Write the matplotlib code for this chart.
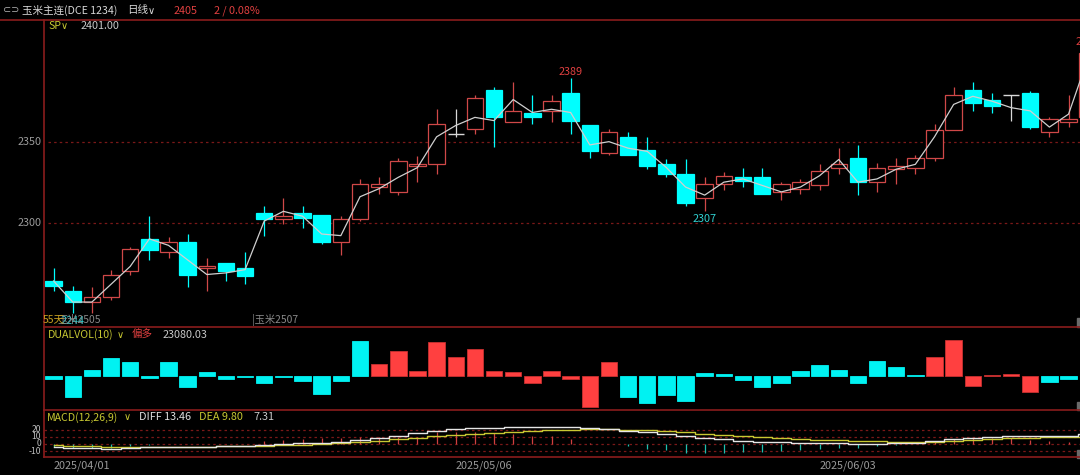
import matplotlib
matplotlib.use("Agg")
import matplotlib.pyplot as plt
from matplotlib.patches import Rectangle
from matplotlib.lines import Line2D

plt.rcParams['font.family'] = ['Noto Sans CJK SC', 'DejaVu Sans']

# ---------------- data ----------------
opens = [2264, 2258, 2251, 2254, 2270, 2290, 2282, 2288, 2272, 2275, 2272, 2306, 2302, 2306,
         2305, 2288, 2302, 2322, 2319, 2335, 2336, 2355, 2358, 2382, 2362, 2368, 2369, 2380,
         2360, 2343, 2353, 2345, 2336, 2330, 2315, 2324, 2328, 2328, 2319, 2321, 2323, 2334,
         2340, 2325, 2333, 2334, 2340, 2357, 2382, 2376, 2379, 2380, 2356, 2362, 2365]
highs = [2272, 2261, 2260, 2271, 2285, 2304, 2291, 2293, 2278, 2275, 2282, 2310, 2315, 2310,
         2305, 2304, 2327, 2328, 2340, 2341, 2370, 2370, 2379, 2384, 2387, 2379, 2379, 2389,
         2360, 2358, 2356, 2353, 2339, 2339, 2328, 2331, 2334, 2334, 2325, 2327, 2336, 2346,
         2348, 2337, 2340, 2342, 2361, 2384, 2387, 2380, 2379, 2381, 2365, 2379, 2407]
lows = [2258, 2244, 2244, 2252, 2268, 2277, 2278, 2260, 2258, 2264, 2262, 2292, 2299, 2297,
        2287, 2280, 2301, 2318, 2317, 2325, 2330, 2353, 2355, 2347, 2362, 2361, 2362, 2355,
        2340, 2342, 2342, 2333, 2328, 2310, 2307, 2320, 2322, 2318, 2314, 2318, 2320, 2330,
        2317, 2319, 2324, 2330, 2338, 2357, 2369, 2368, 2363, 2358, 2353, 2359, 2362]
closes = [2261, 2251, 2254, 2268, 2284, 2283, 2288, 2268, 2273, 2270, 2267, 2302, 2304, 2303,
          2288, 2302, 2324, 2324, 2338, 2336, 2361, 2355, 2377, 2365, 2369, 2365, 2375, 2363,
          2344, 2356, 2342, 2335, 2330, 2312, 2324, 2329, 2326, 2318, 2324, 2325, 2332, 2336,
          2325, 2334, 2335, 2340, 2357, 2379, 2374, 2372, 2379, 2359, 2364, 2364, 2405]
settle = [2264, 2251, 2251, 2262, 2273, 2290, 2286, 2277, 2268, 2269, 2271, 2301, 2307, 2304,
          2293, 2292, 2316, 2321, 2328, 2334, 2353, 2360, 2365, 2363, 2376, 2368, 2370, 2368,
          2348, 2350, 2346, 2344, 2334, 2322, 2317, 2325, 2327, 2323, 2319, 2322, 2329, 2339,
          2325, 2327, 2333, 2336, 2353, 2373, 2378, 2375, 2371, 2369, 2359, 2367, 2401]

dualvol = [-11, -63, 17, 52, 42, -8, 42, -33, 10, -11, -3, -21, -3, -16, -55, -16, 104, 34,
           73, 15, 101, 57, 80, 15, 10, -23, 15, -10, -95, 42, -63, -81, -58, -76, 7, 5,
           -13, -35, -23, 15, 32, 17, -21, 44, 25, 2, 57, 107, -31, 2, 5, -50, -18, -11]
dualvol_bull = [0, 0, 0, 0, 0, 0, 0, 0, 0, 0, 0, 0, 0, 0, 0, 0, 0, 1, 1, 1, 1, 1, 1, 1, 1,
                1, 1, 1, 1, 1, 0, 0, 0, 0, 0, 0, 0, 0, 0, 0, 0, 0, 0, 0, 0, 0, 1, 1, 1, 1,
                1, 1, 0, 0]

macd_diff = [-3.7, -5.0, -6.0, -6.5, -6.0, -4.6, -3.7, -3.7, -3.7, -3.2, -3.2, -1.4, -0.5,
             0.9, 1.9, 3.2, 6.0, 8.8, 11.0, 14.8, 18.0, 20.4, 21.8, 22.7, 23.6, 24.0, 24.0,
             24.0, 21.8, 20.8, 18.5, 16.2, 13.4, 10.6, 7.9, 6.5, 4.6, 3.2, 2.3, 1.4, 1.4, 1.9,
             0.5, 0.5, 0.9, 1.4, 4.2, 7.4, 8.8, 10.2, 11.6, 11.6, 11.0, 11.0, 13.46]
macd_dea = [-1.4, -2.3, -2.8, -3.7, -4.6, -4.6, -4.2, -3.7, -3.7, -3.2, -3.2, -2.8, -1.9,
            -0.9, 0.0, 0.9, 2.3, 4.2, 6.3, 8.8, 11.0, 12.5, 13.9, 15.3, 16.7, 18.0, 19.0,
            20.0, 20.4, 20.4, 20.0, 19.0, 18.0, 16.2, 14.2, 12.6, 11.0, 9.6, 8.1, 6.9, 6.0,
            5.1, 4.4, 3.7, 3.2, 2.8, 3.2, 4.4, 5.5, 6.5, 7.7, 8.6, 9.2, 9.6, 9.80]
macd_hist = [-4, -6, -6, -5, -3, -1, 0.5, 0, 0, 0, 0, 4, 6, 7, 8, 8, 9, 9, 10, 10, 17, 16,
             17, 15, 14, 11, 11, 7, 1.4, 0.3, -3, -7, -9, -12, -13, -12, -11.6, -11.6, -9.7,
             -8.3, -7.4, -5, -5, -3, -1.4, -0.5, 3, 7, 8, 8, 8, 6, 4, 3, 7.31]

date_labels = ["2025/04/01", "2025/05/06", "2025/06/03"]
date_index = [0, 21, 40]
price_ticks = [2350, 2300]
macd_ticks = [20, 10, 0, -10]
extreme_marks = [(1, "low"), (27, "high"), (34, "low"), (54, "high")]

# ---------------- layout ----------------
W, H = 1080, 475
fig = plt.figure(figsize=(W / 100, H / 100), dpi=100, facecolor='black')


def fx(x):
    return x / W


def fy(y):
    return 1 - y / H


X0, X1 = 44, 1080
Y_TOP, Y_MAIN, Y_VOL, Y_MACD = 20, 327, 410, 457
XC0, STEP = 53.6, 19.15
XLIM = ((X0 - XC0) / STEP, (X1 - XC0) / STEP)

BORDER = '#8a1c1c'
GRID = '#7a1818'
UP = '#d04848'
DOWN = '#00ffff'
VRED = '#ff4040'
VCYAN = '#00f2f2'
YEL = '#c8c832'
TXT = '#c8c8c8'
GRAYTXT = '#9a9a9a'


def add_ax(ytop, ybot, ylim):
    ax = fig.add_axes([fx(X0), fy(ybot), fx(X1) - fx(X0), (ybot - ytop) / H])
    ax.set_facecolor('black')
    ax.set_xlim(*XLIM)
    ax.set_ylim(*ylim)
    ax.axis('off')
    return ax


ax = add_ax(Y_TOP, Y_MAIN, (2235.6, 2425.1))
axv = add_ax(Y_MAIN, Y_VOL, (-103, 146))
axm = add_ax(Y_VOL, Y_MACD, (-18.1, 47.2))

# ---- main candles ----
for p in price_ticks:
    ax.axhline(p, color=GRID, lw=0.9, ls=(0, (2, 2.5)), xmin=0.004)

n = len(opens)
xs = list(range(n))
for i in xs:
    o, h, l, c = opens[i], highs[i], lows[i], closes[i]
    if c > o:
        col = UP
        ax.vlines(i, l, h, color=col, lw=0.9, zorder=2)
        ax.bar(i, c - o, bottom=o, width=0.86, facecolor='black', edgecolor=col, lw=0.9, zorder=3)
    elif c < o:
        col = DOWN
        ax.vlines(i, l, h, color=col, lw=0.9, zorder=2)
        ax.bar(i, o - c, bottom=c, width=0.86, facecolor=col, edgecolor=col, lw=0.9, zorder=3)
    else:
        col = '#d8d8d8'
        ax.vlines(i, l, h, color=col, lw=0.9, zorder=2)
        ax.hlines(c, i - 0.43, i + 0.43, color=col, lw=1.0, zorder=3)

ax.plot(xs, settle, color='#d0d0d0', lw=0.9, zorder=4)

for idx, kind in extreme_marks:
    if kind == "high":
        ax.annotate(str(highs[idx]), xy=(idx, highs[idx]), xytext=(0, 5), textcoords='offset points',
                    ha='center', va='center', color='#e04040', fontsize=7.8, annotation_clip=False)
    else:
        ax.annotate(str(lows[idx]), xy=(idx, lows[idx]), xytext=(0, -5.5), textcoords='offset points',
                    ha='center', va='center', color='#30d0d0', fontsize=7.8, annotation_clip=False,
                    zorder=6)

# ---- DUALVOL ----
vx = list(range(len(dualvol)))
vcols = [VRED if b else VCYAN for b in dualvol_bull]
vedge = ['#c83030' if b else VCYAN for b in dualvol_bull]
axv.bar(vx, dualvol, width=0.86, color=vcols, edgecolor=vedge, lw=0.6)

# ---- MACD ----
for t in macd_ticks:
    axm.axhline(t, color=GRID, lw=0.9, ls=(0, (2, 2.5)))
hcols = ['#d04040' if v >= 0 else '#20c0b0' for v in macd_hist]
axm.vlines(xs, 0, macd_hist, colors=hcols, lw=0.9, zorder=2)
axm.plot(xs, macd_dea, color=YEL, lw=1.0, drawstyle='steps-mid', zorder=3)
axm.plot(xs, macd_diff, color='#e6e6e6', lw=1.0, drawstyle='steps-mid', zorder=4)

# ---- borders ----
def hline(y, x0=X0, x1=X1):
    fig.add_artist(Line2D([fx(x0), fx(x1)], [fy(y), fy(y)], color=BORDER, lw=1.2))


hline(Y_TOP, 0, W)
hline(Y_MAIN)
hline(Y_VOL)
hline(Y_MACD)
fig.add_artist(Line2D([fx(X0), fx(X0)], [fy(Y_TOP), fy(Y_MACD)], color=BORDER, lw=1.2))

for (y0, y1) in [(318, 327), (402, 410), (450, 458)]:
    fig.add_artist(Rectangle((fx(1077), fy(y1)), fx(3), (y1 - y0) / H, color='#6a6a6a'))


def txt(x, y, s, color, size=7.8, ha='left', **kw):
    fig.text(fx(x), fy(y), s, color=color, fontsize=size, ha=ha, va='center', **kw)


# header
txt(3, 10.5, "⊂⊃", '#b0b0b0', 7, family=['DejaVu Sans'])
txt(22, 10.5, "玉米主连(DCE 1234)", '#d8d8d8', 7.6)
txt(127, 10.5, "日线", '#d8d8d8', 7.6)
txt(148, 10.5, "∨", '#d8d8d8', 7.0, family=['DejaVu Sans'])
txt(174, 10.5, "2405", '#e04040', 7.8)
txt(214, 10.5, "2 / 0.08%", '#e04040', 7.8)

# main labels
txt(48, 26, "SP", YEL, 7.6)
txt(61, 26, "∨", YEL, 7.0, family=['DejaVu Sans'])
txt(81, 26, "2401.00", TXT, 7.8)
for p in price_ticks:
    y = 222.7 - (p - 2300) * 1.62
    txt(42, y, str(p), GRAYTXT, 7.8, ha='right')
txt(57, 320, "玉米2505", '#8a8a8a', 7.4)
txt(43, 319, "55天", '#c8a020', 7.6)
txt(252, 320, "¦玉米2507", '#8a8a8a', 7.4)

# DUALVOL labels
txt(48, 335, "DUALVOL(10)", YEL, 7.6)
txt(117, 335, "∨", YEL, 7.0, family=['DejaVu Sans'])
txt(132, 335, "偏多", '#e04040', 7.6)
txt(163, 335, "23080.03", TXT, 7.8)

# MACD labels
txt(47, 417.5, "MACD(12,26,9)", YEL, 7.6)
txt(124, 417.5, "∨", YEL, 7.0, family=['DejaVu Sans'])
txt(139, 417.5, "DIFF 13.46", '#e0e0e0', 7.8)
txt(199, 417.5, "DEA 9.80", YEL, 7.8)
txt(253, 417.5, "7.31", TXT, 7.8)
for t in macd_ticks:
    txt(41, 444 - t * 0.72, str(t), '#bdbdbd', 6.2, ha='right')

# dates
for lab, i in zip(date_labels, date_index):
    txt(XC0 + i * STEP, 466, lab, GRAYTXT, 7.8)

fig.savefig("out.png", dpi=100, facecolor='black')
